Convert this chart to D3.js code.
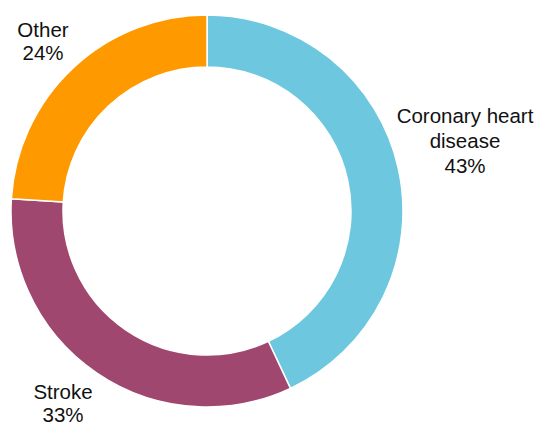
<!DOCTYPE html>
<html>
<head>
<meta charset="utf-8">
<script src="https://cdn.jsdelivr.net/npm/d3@7"></script>
<style>
  html, body { margin: 0; padding: 0; background: #fff; }
  svg { display: block; }
  text { font-family: "Liberation Sans", Arial, sans-serif; }
</style>
</head>
<body>
<svg id="chart" width="540" height="425"></svg>
<script>
const categories = ["Coronary heart disease", "Stroke", "Other"];
const labelLines = [["Coronary heart", "disease"], ["Stroke"], ["Other"]];
const values = [43, 33, 24];
const colors = ["#6DC8DF", "#A0476F", "#FF9900"];

const W = 540, H = 425;
const cx = 207, cy = 211, outerR = 196, innerR = 144;
// label block centres (layout)
const labelPos = [[465, 116], [63, 392], [43, 30]];
const lineH = 24;

const svg = d3.select("#chart");
const g = svg.append("g").attr("transform", `translate(${cx},${cy})`);

const pie = d3.pie().sort(null).value(d => d)(values);
const arc = d3.arc().innerRadius(innerR).outerRadius(outerR);

g.selectAll("path").data(pie).join("path")
  .attr("d", arc)
  .attr("fill", (d, i) => colors[i])
  .attr("stroke", "#fff")
  .attr("stroke-width", 1.5);

pie.forEach((d, i) => {
  const lines = labelLines[i].concat([values[i] + "%"]);
  const t = svg.append("text")
    .attr("text-anchor", "middle")
    .attr("font-size", 20.5)
    .attr("fill", "#111");
  lines.forEach((ln, k) => {
    t.append("tspan")
      .attr("x", labelPos[i][0])
      .attr("y", labelPos[i][1] + k * (i === 0 ? 25 : 23))
      .attr("dy", "0.35em")
      .text(ln);
  });
});
</script>
</body>
</html>
